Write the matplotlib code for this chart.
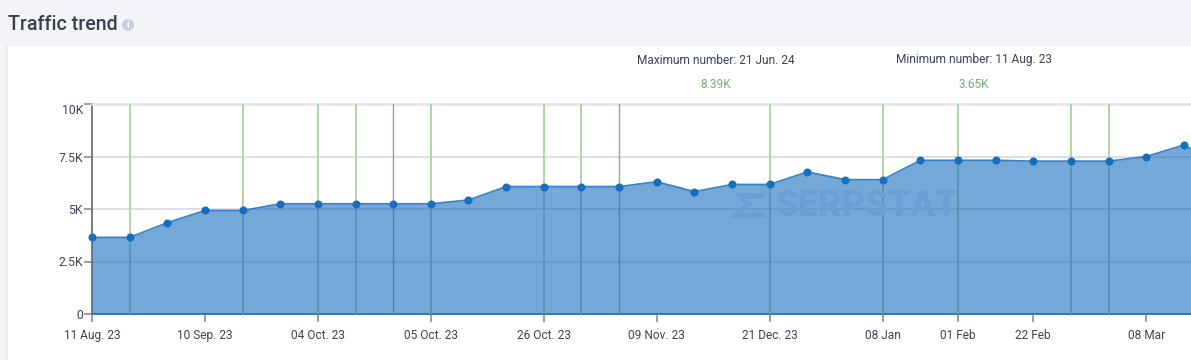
import matplotlib.pyplot as plt
from matplotlib.patches import Circle, Polygon, Rectangle

plt.rcParams['font.family'] = ['Roboto', 'DejaVu Sans']

W, H = 1191, 360

# one point per report date (index 29 is mostly cut off on the right)
traffic = [3650, 3650, 4350, 4930, 4930, 5250, 5250, 5250, 5250, 5250,
           5430, 6070, 6070, 6070, 6070, 6300, 5830, 6170, 6170, 6770,
           6400, 6400, 7320, 7320, 7320, 7280, 7280, 7280, 7500, 8050, 7100]
y_ticks = [0, 2500, 5000, 7500, 10000]
y_labels = ['0', '2.5K', '5K', '7.5K', '10K']
x_ticks = [0, 3, 6, 9, 12, 15, 18, 21, 23, 25, 28]
x_labels = ['11 Aug. 23', '10 Sep. 23', '04 Oct. 23', '05 Oct. 23', '26 Oct. 23', '09 Nov. 23',
            '21 Dec. 23', '08 Jan', '01 Feb', '22 Feb', '08 Mar']
# update markers: index, colour
pale_marks = [1, 4, 6, 7, 9, 12, 13, 18, 21, 23, 26, 27]
dark_marks = [8, 14]

BLUE = '#176ebe'
TEXT = '#3f4450'

fig = plt.figure(figsize=(W / 100, H / 100), dpi=100, facecolor='#f3f4f8')

# white card with a soft edge
fig.patches.append(Rectangle((5 / W, 0), 3 / W, 1 - 46 / H, transform=fig.transFigure, color='#e9ebf2', lw=0, zorder=-2))
fig.patches.append(Rectangle((8 / W, 0), 1 - 8 / W, 1 - 46 / H, transform=fig.transFigure, color='white', lw=0, zorder=-1))

fig.text(8 / W, 1 - 25 / H, 'Traffic trend', fontsize=14.1, fontweight='medium', color='#3a3f4c', va='center')
fig.patches.append(Circle((128, H - 25), 6, transform=None, color='#c8d0e0', lw=0))
fig.text(128 / W, 1 - 25 / H, 'i', fontsize=7, fontweight='bold', color='white', ha='center', va='center')

fig.text(716 / W, 1 - 60 / H, 'Maximum number: 21 Jun. 24', fontsize=8.6, color=TEXT, ha='center', va='center')
fig.text(716 / W, 1 - 84 / H, '8.39K', fontsize=8.6, color='#74ad7c', ha='center', va='center')
fig.text(974 / W, 1 - 60 / H, 'Minimum number: 11 Aug. 23', fontsize=8.6, color=TEXT, ha='center', va='center')
fig.text(974 / W, 1 - 84 / H, '3.65K', fontsize=8.6, color='#74ad7c', ha='center', va='center')

ax = fig.add_axes([92 / W, 1 - 314 / H, (W - 92) / W, 210 / H])
ax.set_zorder(2)
ax.set_facecolor('none')
ax.set_xlim(0, (W - 92) / 37.65)
ax.set_ylim(0, 10000)

xs = list(range(len(traffic)))

ax.set_yticks(y_ticks)
ax.set_yticklabels(y_labels)
ax.get_yticklabels()[-1].set_verticalalignment('top')
ax.set_xticks(x_ticks)
ax.set_xticklabels(x_labels)
ax.tick_params(axis='y', length=6, width=1.2, color='#8a8d93', labelcolor=TEXT, labelsize=8.8, pad=0.5)
ax.tick_params(axis='x', length=6, width=1.2, color='#8a8d93', labelcolor=TEXT, labelsize=8.6, pad=5)
ax.grid(axis='y', color='#d3d9e8', lw=1.2, zorder=1)
ax.set_axisbelow(True)

ax.spines['right'].set_visible(False)
ax.spines['top'].set_color('#e0e3ee')
ax.spines['top'].set_linewidth(1.8)
ax.spines['left'].set_color('#77797f')
ax.spines['left'].set_linewidth(1.4)
ax.spines['bottom'].set_color('#4d7fb5')
ax.spines['bottom'].set_linewidth(1.4)

for i in pale_marks:
    ax.axvline(i, color='#b2d5a2', lw=1.4, zorder=2.6)
for i in dark_marks:
    ax.axvline(i, color='#85b276', lw=1.0, zorder=2.6)

ax.fill_between(xs, traffic, 0, color=BLUE, alpha=0.6, lw=0, zorder=3)
ax.plot(xs, traffic, color=BLUE, lw=1.2, alpha=0.85, zorder=4)
ax.plot(xs, traffic, 'o', color=BLUE, ms=5.8, mew=0, zorder=5, clip_on=False)

# watermark, faint on top of the area
WM = '#6a9fd2'
fig.text(776 / W, 1 - 206 / H, 'SERPSTAT', fontsize=26, fontweight='black', color=WM,
         va='center', ha='left', zorder=6)
fig.patches.append(Polygon([(730, H - 218), (745, H - 204), (733, H - 193), (766, H - 193), (760, H - 199),
                            (745, H - 199), (754, H - 205), (741, H - 212), (762, H - 212), (766, H - 218)],
                           transform=None, closed=True, color=WM, lw=0, zorder=6))

fig.savefig('out.png', dpi=100, facecolor=fig.get_facecolor())
